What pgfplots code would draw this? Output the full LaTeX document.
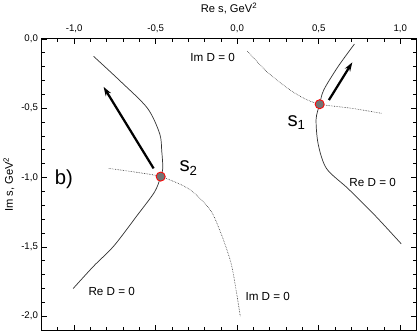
\documentclass[border=0pt]{standalone}
\usepackage{pgfplots}
\pgfplotsset{compat=1.18}
\usepackage{fontspec}
\setmainfont{Liberation Sans}
\usetikzlibrary{arrows.meta}

\begin{document}
\begin{tikzpicture}
\begin{axis}[
    scale only axis, width=368bp, height=285.6bp,
    xmin=-1.2, xmax=1.1, ymin=-2.1, ymax=0,
    xtick={-1,-0.5,0,0.5,1}, xticklabels={{-1,0},{-0,5},{0,0},{0,5},{1,0}},
    ytick={-2,-1.5,-1,-0.5,0}, yticklabels={{-2,0},{-1,5},{-1,0},{-0,5},{0,0}},
    minor xtick={-1.2,-1.1,...,1.1}, minor ytick={-2.1,-2.0,...,0},
    tick align=inside, tick pos=both,
    xticklabel pos=upper, yticklabel pos=left,
    major tick length=5bp, minor tick length=3bp,
    tick style={line width=0.7pt, black},
    axis line style={line width=0.9pt},
    tick label style={font=\fontsize{9.5}{10}\selectfont},
    xticklabel style={yshift=3bp},
    label style={font=\fontsize{11}{12}\selectfont},
    xlabel style={yshift=3bp},
    xlabel={Re s, GeV\textsuperscript{2}},
    ylabel={Im s, GeV\textsuperscript{2}},
    clip=false
]
% Re D = 0 (solid), branch through s2
\addplot[black!80, line width=0.7pt, smooth, tension=0.5] coordinates {
    (-0.881,-0.125) (-0.7125,-0.309) (-0.55,-0.5) (-0.475,-0.684)
    (-0.4625,-0.809) (-0.456,-0.934) (-0.469,-0.993) (-0.506,-1.103)
    (-0.6125,-1.272) (-0.756,-1.493) (-0.881,-1.640) (-1.006,-1.801)};
% Im D = 0 (dotted), branch through s2
\addplot[black!80, line width=0.6pt, densely dotted, smooth, tension=0.5] coordinates {
    (-0.7875,-0.934) (-0.6125,-0.963) (-0.469,-0.993) (-0.319,-1.066)
    (-0.2375,-1.140) (-0.156,-1.25) (-0.094,-1.419) (-0.0375,-1.618)
    (-0.006,-1.816) (0.019,-2.0)};
% Im D = 0 (dotted), branch through s1
\addplot[black!80, line width=0.6pt, densely dotted, smooth, tension=0.5] coordinates {
    (0.0625,-0.088) (0.181,-0.235) (0.306,-0.353) (0.406,-0.426)
    (0.506,-0.471) (0.7,-0.5) (0.8875,-0.537)};
% Re D = 0 (solid), branch through s1
\addplot[black!80, line width=0.7pt, smooth, tension=0.5] coordinates {
    (0.719,-0.037) (0.619,-0.199) (0.531,-0.368) (0.506,-0.471)
    (0.484,-0.58) (0.497,-0.76) (0.548,-0.935) (0.681,-1.081)
    (0.844,-1.272) (1.006,-1.478)};
% arrows
\addplot[black, line width=2.2pt, -{Stealth[length=9pt,width=6pt]}] coordinates {
    (-0.5125,-0.934) (-0.819,-0.346)};
\addplot[black, line width=2.2pt, -{Stealth[length=9pt,width=6pt]}] coordinates {
    (0.5625,-0.441) (0.706,-0.169)};
% poles
\addplot[only marks, mark=*, mark size=4.5pt,
    mark options={fill=black!55, draw=red, line width=0.8pt}] coordinates {
    (-0.469,-0.993) (0.506,-0.471)};
% labels
\node[font=\fontsize{11.5}{12}\selectfont] at (axis cs:-0.15,-0.132) {Im D = 0};
\node[font=\fontsize{11.5}{12}\selectfont] at (axis cs:0.1875,-1.860) {Im D = 0};
\node[font=\fontsize{11.5}{12}\selectfont] at (axis cs:-0.769,-1.824) {Re D = 0};
\node[font=\fontsize{11.5}{12}\selectfont] at (axis cs:0.831,-1.037) {Re D = 0};
\node[font=\fontsize{20}{20}\selectfont] at (axis cs:-1.0625,-1.015) {b)};
\node[font=\fontsize{20}{20}\selectfont] at (axis cs:0.3625,-0.603)
    {s\raisebox{-0.35ex}{\fontsize{13}{13}\selectfont 1}};
\node[font=\fontsize{20}{20}\selectfont] at (axis cs:-0.3,-0.934)
    {s\raisebox{-0.35ex}{\fontsize{13}{13}\selectfont 2}};
\end{axis}
\end{tikzpicture}
\end{document}
